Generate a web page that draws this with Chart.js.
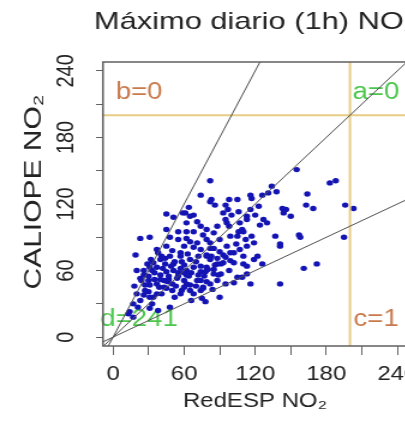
<!DOCTYPE html>
<html>
<head>
<meta charset="utf-8">
<script src="https://cdn.jsdelivr.net/npm/chart.js@4.4.1/dist/chart.umd.min.js"></script>
<style>
html,body{margin:0;padding:0;overflow:hidden;background:#fff;width:405px;height:425px}
#c{display:block;transform:scaleX(1.2);transform-origin:0 0}
</style>
</head>
<body>
<canvas id="c" width="400" height="425"></canvas>
<script>
// ---- data ----
const titleText = 'Máximo diario (1h) NO₂';
const xAxisTitle = 'RedESP NO₂';
const yAxisTitle = 'CALIOPE NO₂';
const tickLabels = ['0', '60', '120', '180', '240'];
const tickStep = 30;
const refSlopes = [2, 1, 0.5];
const thresholdNO2 = 200;
const quadrantNames = ['a', 'b', 'c', 'd'];
const quadrantCounts = [0, 0, 1, 241];

const xValues = [
  82,155,183,188,164,163,169,196,203,195,157,158,141,161,172,141,126,116,109,102,
  90,78,134,138,131,126,116,117,105,98,95,83,86,74,143,146,150,144,123,116,
  120,113,127,124,130,106,100,95,98,107,110,105,112,117,119,113,88,85,90,79,
  76,85,90,96,102,107,79,82,88,93,74,78,85,89,79,74,76,137,141,
  97,93,64,61,45,51,68,71,74,62,62,55,48,45,23,31,19,37,41,44,
  48,52,57,65,71,99,106,82,93,99,110,29,26,33,37,40,45,51,57,62,
  68,74,79,85,91,23,30,37,43,50,54,60,65,71,76,82,88,20,30,34,
  41,45,58,68,75,23,33,31,21,14,105,113,13,
  20,24,30,40,51,55,60,62,65,70,77,80,83,88,95,99,102,98,104,110,
  113,119,122,91,95,84,74,66,60,50,43,37,31,26,38,48,31,27,47,57,
  65,74,79,57,50,40,32,17,17,
  82,59,55,96,109,113,79,68,82,68,62,60,45,38,34,65,
  26,35,47,55,64,72,31,42,49,60,66,39,46,53,62,70,35,27,58,44,18,52,63,72,86
];
const yValues = [
  141,151,139,141,129,119,116,119,116,90,92,90,84,62,66,48,66,48,54,49,
  36,32,136,131,130,128,128,125,124,124,119,124,119,128,116,115,109,112,118,115,
  110,109,106,101,103,113,110,106,100,103,95,91,88,91,85,82,100,94,88,88,
  92,80,77,82,76,79,74,70,71,67,64,59,61,56,50,51,45,91,82,
  115,112,117,112,111,108,110,104,100,103,95,88,90,97,89,90,74,79,73,66,
  73,68,76,86,85,91,95,80,74,69,66,66,60,60,63,56,59,60,62,60,
  63,59,63,57,66,53,51,48,51,48,53,51,47,51,44,48,51,39,41,36,
  39,44,42,39,35,33,30,26,27,23,54,57,21,
  60,51,55,52,66,55,58,48,70,68,55,61,73,66,72,76,67,60,84,73,
  64,70,73,57,48,43,42,33,45,42,45,39,36,38,24,27,47,42,52,39,
  42,79,73,73,78,70,70,30,18,
  122,112,95,103,97,106,97,95,85,81,89,82,82,76,67,109,
  56,58,55,58,55,56,63,62,64,65,58,45,50,46,56,46,52,47,68,71,46,36,75,73,65
];

// ---- chart ----
const FONT = '"Liberation Sans", Arial, Helvetica, sans-serif';
const TEXT = '#222222';
Chart.defaults.font.family = FONT;

const points = xValues.map((v, i) => ({ x: v, y: yValues[i] }));

const refLineSets = refSlopes.map(s => ({
  data: [{ x: -10, y: -10 * s }, { x: 300, y: 300 * s }],
  showLine: true, borderColor: '#505050', borderWidth: 1, pointRadius: 0, fill: false
}));
const thresholdSets = [
  { data: [{ x: -20, y: thresholdNO2 }, { x: 300, y: thresholdNO2 }] },
  { data: [{ x: thresholdNO2, y: -20 }, { x: thresholdNO2, y: 300 }] }
].map(d => Object.assign(d, { showLine: true, borderColor: '#e6cc84', borderWidth: 2, pointRadius: 0, fill: false }));

const quadrantPlugin = {
  id: 'quadrants',
  beforeDatasetsDraw(chart) {
    const { ctx, scales: { x, y } } = chart;
    const pos = { a: [222, 220], b: [22, 220], c: [222, 16], d: [22, 16] };
    const col = { a: '#4cc64c', b: '#c97a4c', c: '#c97a4c', d: '#4cc64c' };
    ctx.save();
    ctx.font = '23px ' + FONT;
    ctx.textAlign = 'center';
    ctx.textBaseline = 'middle';
    quadrantNames.forEach((n, i) => {
      ctx.fillStyle = col[n];
      ctx.fillText(n + '=' + quadrantCounts[i], x.getPixelForValue(pos[n][0]), y.getPixelForValue(pos[n][1]));
    });
    ctx.restore();
  }
};

const boxPlugin = {
  id: 'box',
  afterDatasetsDraw(chart) {
    const { ctx, chartArea: a } = chart;
    ctx.save();
    ctx.strokeStyle = '#606060';
    ctx.lineWidth = 1.5;
    ctx.strokeRect(a.left, a.top, a.right - a.left, a.bottom - a.top);
    ctx.restore();
  }
};

const stretchPlugin = {
  id: 'stretch',
  afterLayout(chart) {
    const ys = chart.scales.y;
    if (ys && !ys._stretched) {
      const orig = ys.drawTitle;
      ys.drawTitle = function () {
        const ctx = this.ctx;
        const c = (this.top + this.bottom) / 2;
        ctx.save();
        ctx.translate(0, c - 12);
        ctx.scale(1, 1.5);
        ctx.translate(0, -c);
        orig.call(this);
        ctx.restore();
      };
      ys._stretched = true;
    }
    const tb = chart.titleBlock;
    if (tb && !tb._stretched) {
      const origT = tb.draw;
      tb.draw = function (area) {
        const ctx = chart.ctx;
        const c = (this.left + this.right) / 2;
        ctx.save();
        ctx.translate(c, 0);
        ctx.scale(1.07, 1);
        ctx.translate(-c, 0);
        origT.call(this, area);
        ctx.restore();
      };
      tb._stretched = true;
    }
  }
};

const tickCb = v => (tickLabels.includes(String(v)) ? String(v) : '');

new Chart(document.getElementById('c'), {
  type: 'scatter',
  data: {
    datasets: [
      ...refLineSets,
      ...thresholdSets,
      { data: points, backgroundColor: '#1414b4', borderWidth: 0, pointRadius: 2.7 }
    ]
  },
  options: {
    responsive: false,
    animation: false,
    events: [],
    layout: { padding: { left: 0, right: 61, top: 0, bottom: 0 } },
    plugins: {
      legend: { display: false },
      tooltip: { enabled: false },
      title: {
        display: true, text: titleText, fullSize: false, color: TEXT,
        font: { size: 24, weight: 'normal' }, padding: { top: 8, bottom: 25.2 }
      }
    },
    scales: {
      x: {
        type: 'linear', min: -8.5, max: 248,
        border: { display: false },
        grid: { drawOnChartArea: false, drawTicks: true, tickLength: 9, color: '#606060' },
        ticks: { stepSize: tickStep, includeBounds: false, autoSkip: false, maxRotation: 0,
                 padding: 7.5, color: TEXT, font: { size: 20 }, callback: tickCb },
        title: { display: true, text: xAxisTitle, color: TEXT, font: { size: 20 },
                 padding: { top: 0, bottom: 12 } },
        afterFit(s) { s.height = 79; }
      },
      y: {
        type: 'linear', min: -8, max: 248,
        border: { display: false },
        grid: { drawOnChartArea: false, drawTicks: true, tickLength: 5.8, color: '#606060' },
        ticks: { stepSize: tickStep, includeBounds: false, autoSkip: false,
                 minRotation: 90, maxRotation: 90, crossAlign: 'center',
                 padding: 8, color: TEXT, font: { size: 20 }, callback: tickCb },
        title: { display: true, text: yAxisTitle, color: TEXT, font: { size: 20 },
                 padding: { top: 16, bottom: 0 } },
        afterFit(s) { s.width = 85.8; }
      }
    }
  },
  plugins: [stretchPlugin, quadrantPlugin, boxPlugin]
});
</script>
</body>
</html>
